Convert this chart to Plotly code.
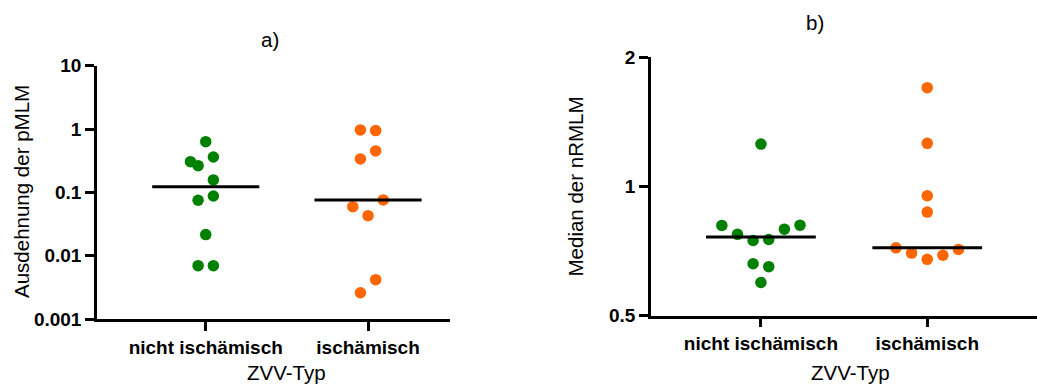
import plotly.graph_objects as go
import numpy as np

categories = ["nicht ischämisch", "ischämisch"]

# Panel a) Ausdehnung der pMLM (log scale)
a_nicht = [0.632, 0.305, 0.264, 0.362, 0.157, 0.0877, 0.075, 0.0215, 0.00695, 0.00695]
a_isch = [0.968, 0.944, 0.451, 0.337, 0.0759, 0.0594, 0.0428, 0.00418, 0.0026]

# Panel b) Median der nRMLM (log2 scale)
b_nicht = [1.255, 0.811, 0.773, 0.748, 0.752, 0.795, 0.812, 0.660, 0.650, 0.597]
b_isch = [1.699, 1.260, 0.951, 0.871, 0.719, 0.699, 0.676, 0.691, 0.713]

a_yticks = [0.001, 0.01, 0.1, 1, 10]
a_yticklabels = ["0.001", "0.01", "0.1", "1", "10"]
b_yticks = [0.5, 1, 2]
b_yticklabels = ["0.5", "1", "2"]

# scatter layout (beeswarm slots, in half-dot units)
a_nicht_slots = [0, -2, -1, 1, 1, 1, -1, 0, -1, 1]
a_isch_slots = [-1, 1, 1, -1, 2, -2, 0, 1, -1]
b_nicht_slots = [0, -5, -3, -1, 1, 3, 5, -1, 1, 0]
b_isch_slots = [0, 0, 0, 0, -4, -2, 0, 2, 4]
SLOT = 0.047
HALF = 0.33

GREEN = "#008000"
ORANGE = "#FF6600"
FONT = "Liberation Sans, Arial, sans-serif"
W, H = 1037, 385

fig = go.Figure()

def add_group(vals, slots, cat_idx, color, xa, ya):
    xs = [cat_idx + s * SLOT for s in slots]
    fig.add_trace(go.Scatter(x=xs, y=vals, mode="markers", xaxis=xa, yaxis=ya,
                             marker=dict(color=color, size=11.5, line=dict(width=0)),
                             showlegend=False, hoverinfo="y"))
    med = float(np.median(vals))
    fig.add_trace(go.Scatter(x=[cat_idx - HALF, cat_idx + HALF], y=[med, med], mode="lines",
                             xaxis=xa, yaxis=ya, line=dict(color="black", width=3),
                             showlegend=False, hoverinfo="skip"))

add_group(a_nicht, a_nicht_slots, 0, GREEN, "x", "y")
add_group(a_isch, a_isch_slots, 1, ORANGE, "x", "y")
add_group(b_nicht, b_nicht_slots, 0, GREEN, "x2", "y2")
add_group(b_isch, b_isch_slots, 1, ORANGE, "x2", "y2")

axis_common = dict(showline=True, linecolor="black", linewidth=2.5, ticks="outside",
                   ticklen=9, tickwidth=2.5, tickcolor="black", showgrid=False,
                   zeroline=False, mirror=False, automargin=False,
                   tickfont=dict(family=FONT, size=19, color="black", weight="bold"))

fig.update_layout(
    width=W, height=H,
    margin=dict(l=0, r=0, t=0, b=0, pad=0),
    paper_bgcolor="white", plot_bgcolor="white",
    xaxis=dict(domain=[97 / W, 450 / W], range=[-0.67, 1.505], tickvals=[0, 1],
               ticktext=categories, anchor="y", **axis_common),
    yaxis=dict(domain=[(H - 319) / H, (H - 65.7) / H], type="log", range=[-3, 1],
               tickvals=a_yticks, ticktext=a_yticklabels, anchor="x", **axis_common),
    xaxis2=dict(domain=[651 / W, 1.0], range=[-0.661, 1.66], tickvals=[0, 1],
                ticktext=categories, anchor="y2", **axis_common),
    yaxis2=dict(domain=[(H - 315.5) / H, (H - 57.3) / H], type="log",
                range=[np.log10(0.5), np.log10(2)], tickvals=b_yticks,
                ticktext=b_yticklabels, anchor="x2", **axis_common),
)

tf = dict(family=FONT, size=20.5, color="black")
ann = [
    dict(text="a)", x=270 / W, y=1 - 39 / H),
    dict(text="b)", x=815 / W, y=1 - 22 / H),
    dict(text="ZVV-Typ", x=286 / W, y=1 - 372 / H),
    dict(text="ZVV-Typ", x=850 / W, y=1 - 372 / H),
    dict(text="Ausdehnung der pMLM", x=22 / W, y=1 - 192 / H, textangle=-90),
    dict(text="Median der nRMLM", x=575 / W, y=1 - 186.5 / H, textangle=-90),
]
for a in ann:
    fig.add_annotation(xref="paper", yref="paper", xanchor="center", yanchor="middle",
                       showarrow=False, font=tf, **a)

fig.write_html("out.html")
